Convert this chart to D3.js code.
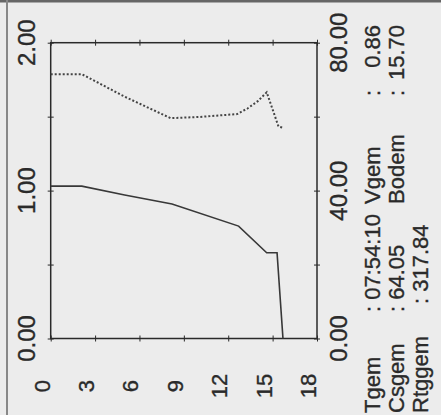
<!DOCTYPE html>
<html>
<head>
<meta charset="utf-8">
<script src="https://cdn.jsdelivr.net/npm/d3@7"></script>
<style>
  body { margin: 0; background: #ececec; }
  svg { display: block; }
</style>
</head>
<body>
<div id="chart"></div>
<script>
// solid line, left axis (0 - 2)
var solidT = [0, 2.1, 5.0, 8.2, 12.7, 14.6, 15.3, 15.7];
var solidV = [1.03, 1.03, 0.97, 0.91, 0.76, 0.58, 0.58, 0];

// dotted line, right axis (0 - 80)
var dotT = [0, 2.1, 5.0, 8.1, 10.0, 12.6, 13.3, 14.0, 14.6, 15.4, 15.7];
var dotV = [71.5, 71.5, 65.4, 59.6, 59.9, 60.7, 62.2, 64.2, 66.6, 57.3, 57.0];

var xTicks = [0, 3, 6, 9, 12, 15, 18];
var leftTicks = [0, 0.5, 1, 1.5, 2];
var leftLabels = [0, 1, 2];
var rightTicks = [0, 20, 40, 60, 80];
var rightLabels = [0, 40, 80];

var infoNames = ["Tgem", "Csgem", "Rtggem"];
var infoValues = ["07:54:10", "64.05", "317.84"];
var infoNames2 = ["Vgem", "Bodem"];
var infoValues2 = ["0.86", "15.70"];

var width = 441, height = 415;
var font = "'Liberation Sans', Arial, sans-serif";
var ink = "#2a2a2a";

var svg = d3.select("#chart").append("svg")
    .attr("width", width)
    .attr("height", height);

svg.append("rect")
    .attr("width", width).attr("height", height)
    .attr("fill", "#ececec");

// scan border
svg.append("line")
    .attr("x1", 0).attr("x2", width).attr("y1", 1).attr("y2", 1)
    .attr("stroke", "#666").attr("stroke-width", 3);
svg.append("line")
    .attr("x1", 7).attr("x2", 7).attr("y1", 0).attr("y2", height)
    .attr("stroke", "#888").attr("stroke-width", 2);

var x = d3.scaleLinear().domain([0, 18]).range([50.7, 317]);
var yL = d3.scaleLinear().domain([0, 2]).range([338.5, 42.7]);
var yR = d3.scaleLinear().domain([0, 80]).range([338.5, 42.7]);

// frame
svg.append("rect")
    .attr("x", x(0)).attr("y", yL(2))
    .attr("width", x(18) - x(0)).attr("height", yL(0) - yL(2))
    .attr("fill", "none")
    .attr("stroke", ink)
    .attr("stroke-width", 1.5);

// tick marks crossing the frame on all four sides
function crossTicks(g, horizontal) {
  g.select(".domain").remove();
  g.selectAll(".tick text").remove();
  if (horizontal) {
    g.selectAll(".tick line").attr("y1", -3).attr("y2", 3);
  } else {
    g.selectAll(".tick line").attr("x1", -3).attr("x2", 3);
  }
  g.selectAll(".tick line").attr("stroke", ink).attr("stroke-width", 1);
}

svg.append("g").attr("transform", "translate(0," + yL(0) + ")")
    .call(d3.axisBottom(x).tickValues(xTicks))
    .call(crossTicks, true);
svg.append("g").attr("transform", "translate(0," + yL(2) + ")")
    .call(d3.axisTop(x).tickValues(xTicks))
    .call(crossTicks, true);
svg.append("g").attr("transform", "translate(" + x(0) + ",0)")
    .call(d3.axisLeft(yL).tickValues(leftTicks))
    .call(crossTicks, false);
svg.append("g").attr("transform", "translate(" + x(18) + ",0)")
    .call(d3.axisRight(yR).tickValues(rightTicks))
    .call(crossTicks, false);

// rotated labels (text reads bottom to top)
function vtext(px, py, str, anchor, size) {
  svg.append("text")
      .attr("transform", "translate(" + px + "," + py + ") rotate(-90)")
      .attr("text-anchor", anchor)
      .style("font-family", font)
      .style("font-size", size + "px")
      .style("fill", ink)
      .style("stroke", ink)
      .style("stroke-width", 0.35)
      .text(str);
}

xTicks.forEach(function(t) { vtext(x(t) - 1, 386, t, "middle", 22); });
leftLabels.forEach(function(v) { vtext(35, yL(v), v.toFixed(2), "middle", 24); });
rightLabels.forEach(function(v) { vtext(347, yR(v), v.toFixed(2), "middle", 24); });

// data lines
var solid = solidT.map(function(t, i) { return [t, solidV[i]]; });
var dotted = dotT.map(function(t, i) { return [t, dotV[i]]; });

svg.append("path")
    .datum(solid)
    .attr("fill", "none")
    .attr("stroke", "#383838")
    .attr("stroke-width", 1.6)
    .attr("d", d3.line()
        .x(function(d) { return x(d[0]); })
        .y(function(d) { return yL(d[1]); }));

svg.append("path")
    .datum(dotted)
    .attr("fill", "none")
    .attr("stroke", "#444")
    .attr("stroke-width", 2)
    .attr("stroke-dasharray", "2,2")
    .attr("d", d3.line()
        .x(function(d) { return x(d[0]); })
        .y(function(d) { return yR(d[1]); }));

// info block at the right
var lineX = [380, 404, 428];
var colonY = [312, 312, 304];
infoNames.forEach(function(n, i) {
  vtext(lineX[i], 413, n, "start", 22);
  vtext(lineX[i], colonY[i], ": " + infoValues[i], "start", 22);
});
infoNames2.forEach(function(n, i) {
  vtext(lineX[i], 204, n, "start", 22);
  vtext(lineX[i], 96, ":", "start", 22);
  vtext(lineX[i], 25, infoValues2[i], "end", 22);
});
</script>
</body>
</html>
